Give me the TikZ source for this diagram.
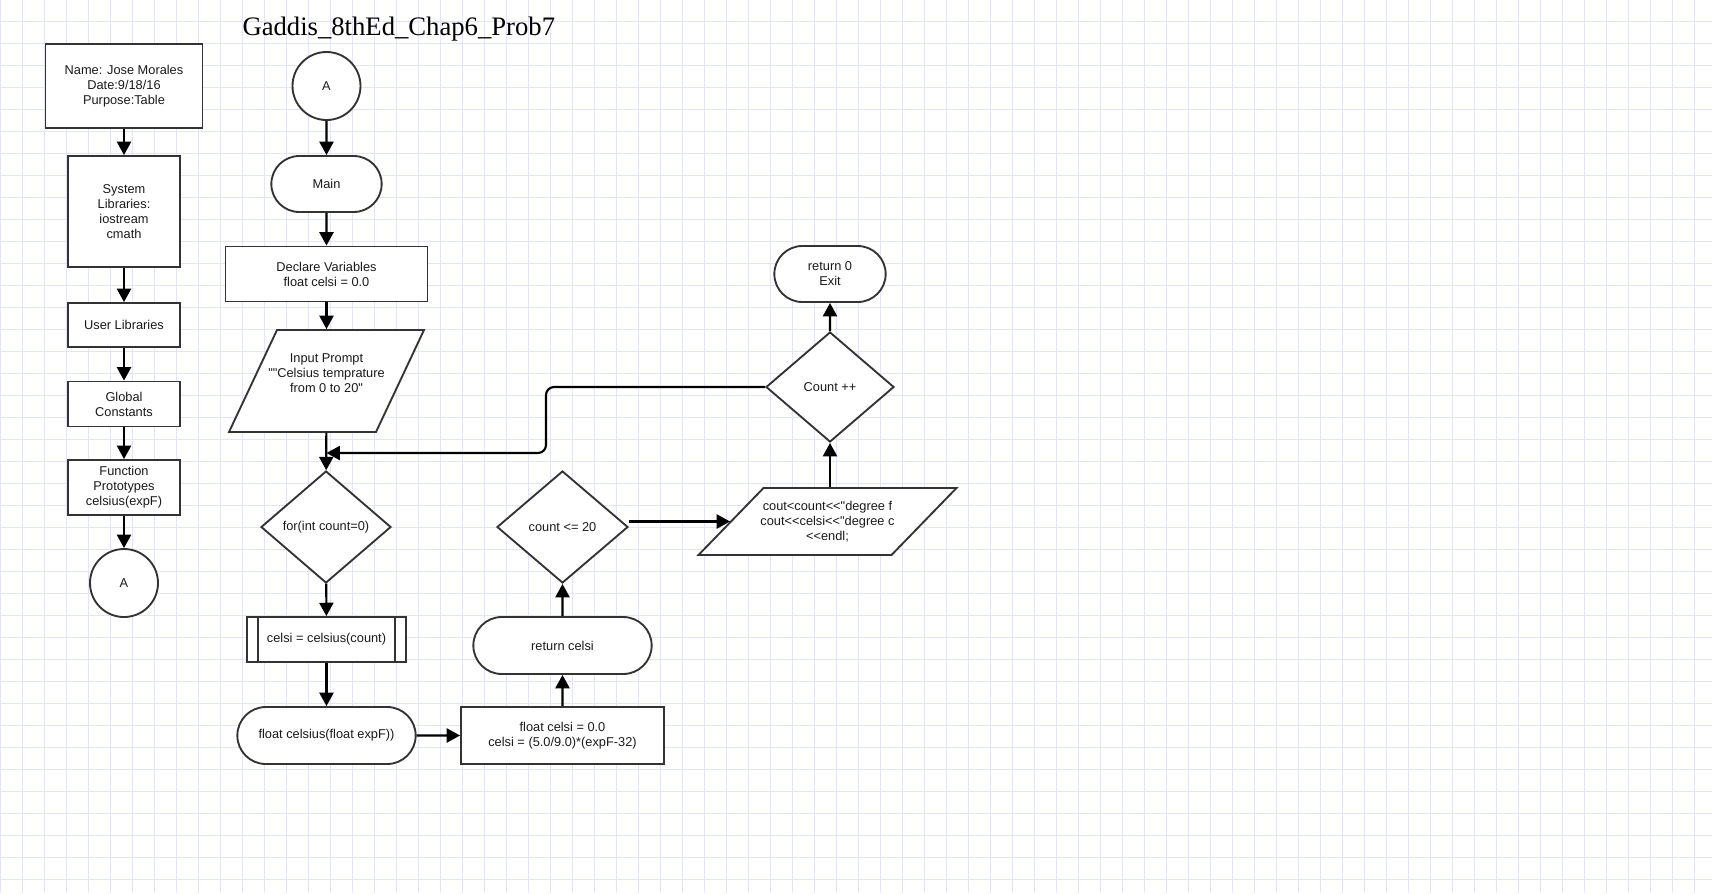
\documentclass[tikz,border=0pt]{standalone}
\usepackage{fontspec}
\newfontfamily\chartfont{Liberation Sans}
\newfontfamily\titlefont{Liberation Serif}
\usetikzlibrary{shapes.geometric,shapes.misc,arrows.meta}

\tikzset{every picture/.style={line width=0.75pt}}
\tikzset{
  chart/.style={draw={rgb, 255:red, 51; green, 51; blue, 51 }, line width=1.4pt, fill=white, align=center, inner sep=1pt,
    text={rgb, 255:red, 26; green, 26; blue, 26 }, font=\chartfont\fontsize{9.6}{11.25}\selectfont},
  procbox/.style={chart, rectangle},
  termbox/.style={chart, rounded rectangle},
  decibox/.style={chart, diamond},
  iotext/.style={chart, rectangle, draw=none, fill=none},
  ioshape/.style={draw={rgb, 255:red, 51; green, 51; blue, 51 }, line width=1.4pt, fill=white},
  connbox/.style={chart, circle},
  subbox/.style={chart, rectangle, path picture={
      \draw [draw={rgb, 255:red, 51; green, 51; blue, 51 }, line width=1.4pt]
        ([xshift=8.25pt]path picture bounding box.north west) -- ([xshift=8.25pt]path picture bounding box.south west)
        ([xshift=-8.25pt]path picture bounding box.north east) -- ([xshift=-8.25pt]path picture bounding box.south east);}},
  flow/.style={line width=1.6pt, -{Triangle[length=10pt, width=10.5pt]}},
  gridline/.style={draw={rgb, 255:red, 228; green, 228; blue, 247 }, line width=0.75pt}
}

\begin{document}
\begin{tikzpicture}[x=0.75pt,y=0.75pt,yscale=-1,xscale=1]
\useasboundingbox (0,0) rectangle (1712,893);

%Background grid
\fill [white] (0,0) rectangle (1712,893);
\foreach \gx in {0,...,77} {\draw [gridline] ({0.7+22*\gx},0) -- ({0.7+22*\gx},893);}
\foreach \gy in {0,...,39} {\draw [gridline] (0,{21.3+22*\gy}) -- (1712,{21.3+22*\gy});}

% Text Node
\node [anchor=base west, inner sep=0pt, font=\titlefont\fontsize{20}{24}\selectfont] (title) at (242,35) {Gaddis\_8thEd\_Chap6\_Prob7};

%Shape: Left column
\node [procbox, minimum width=117.75pt, minimum height=63pt] (name) at (124,86) {Name: Jose Morales\\Date:9/18/16\\Purpose:Table};
\node [procbox, minimum width=84pt, minimum height=83.25pt] (syslib) at (124,211.5) {System\\Libraries:\\iostream\\cmath};
\node [procbox, minimum width=84pt, minimum height=33pt] (userlib) at (124,325) {User Libraries};
\node [procbox, minimum width=84pt, minimum height=33.75pt] (globals) at (124,404) {Global\\Constants};
\node [procbox, minimum width=84pt, minimum height=41.25pt] (protos) at (124,487.5) {Function\\Prototypes\\celsius(expF)};
\node [connbox, minimum size=51pt] (conna) at (124,583) {A};

%Shape: Main column
\node [connbox, minimum size=51pt] (connb) at (326.5,86) {A};
\node [termbox, minimum width=84.75pt, minimum height=42pt] (mainterm) at (326.5,184) {Main};
\node [procbox, minimum width=151.5pt, minimum height=41.25pt] (declare) at (326.5,274) {Declare Variables\\float celsi = 0.0};
%Shape: Parallelogram
\draw [ioshape] (277,330) -- (424,330) -- (376,432) -- (229,432) -- cycle ;
\node [iotext, minimum width=110.25pt, minimum height=76.5pt] (input) at (326.5,381) {Input Prompt\\""Celsius temprature\\from 0 to 20"\\ \mbox{}};
\node [decibox, minimum width=97.5pt, minimum height=84pt] (forloop) at (326,527) {for(int count=0)};
\node [subbox, minimum width=119.25pt, minimum height=33.75pt] (callcel) at (326.5,639.5) {celsi = celsius(count)};
\node [termbox, minimum width=135.75pt, minimum height=42.75pt] (funchead) at (326.5,735.5) {float celsius(float expF))};

%Shape: Function column
\node [procbox, minimum width=152.25pt, minimum height=42.75pt] (calc) at (562.5,735.5) {float celsi = 0.0\\celsi = (5.0/9.0)*(expF-32)};
\node [termbox, minimum width=135.75pt, minimum height=42.75pt] (retcel) at (562.5,645.5) {return celsi};
\node [decibox, minimum width=98.25pt, minimum height=84pt] (cond) at (562.5,527) {count <= 20};

%Shape: Output column
\draw [ioshape] (763.5,488) -- (956.5,488) -- (891.5,555) -- (698.5,555) -- cycle ;
\node [iotext, minimum width=144.75pt, minimum height=50.25pt] (cout) at (827.5,521.5) {cout<count<<"degree f\\cout<<celsi<<"degree c\\<<endl;};
\node [decibox, minimum width=96pt, minimum height=82.5pt] (countpp) at (830,387) {Count ++};
\node [termbox, minimum width=85.5pt, minimum height=42pt] (exitterm) at (830,274) {return 0\\Exit};

\coordinate (turn) at (546,453);
\coordinate (merge) at (326.5,453);

%Straight Lines
\draw [flow] (name) -- (syslib);
\draw [flow] (syslib) -- (userlib);
\draw [flow] (userlib) -- (globals);
\draw [flow] (globals) -- (protos);
\draw [flow] (protos) -- (conna);
\draw [flow] (connb) -- (mainterm);
\draw [flow] (mainterm) -- (declare);
\draw [flow] (declare) -- (input);
\draw [flow] (input) -- (forloop);
\draw [flow] (forloop) -- (callcel);
\draw [flow] (callcel) -- (funchead);
\draw [flow] (funchead) -- (calc);
\draw [flow] (calc) -- (retcel);
\draw [flow] (retcel) -- (cond);
\draw [flow] (cond.east |- cout.west) -- (cout.west);
\draw [flow] (countpp |- cout.north) -- (countpp);
\draw [flow] (countpp) -- (exitterm);
%Loop back
\draw [flow, rounded corners=6pt] (countpp.west) -| (turn) -- (merge);

\end{tikzpicture}
\end{document}
